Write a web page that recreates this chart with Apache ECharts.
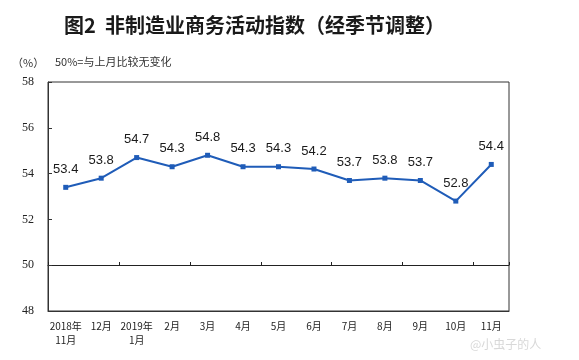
<!DOCTYPE html>
<html><head><meta charset="utf-8">
<script src="https://cdn.jsdelivr.net/npm/echarts@6/dist/echarts.min.js"></script>
<style>html,body{margin:0;padding:0;background:#fff}#c{width:579px;height:360px}</style>
</head><body><div id="c"></div>
<script>
var categories = ['2018年\n11月','12月','2019年\n1月','2月','3月','4月','5月','6月','7月','8月','9月','10月','11月'];
var values = [53.4, 53.8, 54.7, 54.3, 54.8, 54.3, 54.3, 54.2, 53.7, 53.8, 53.7, 52.8, 54.4];
var yTicks = [48, 50, 52, 54, 56, 58];
var titleText = '图2  非制造业商务活动指数（经季节调整）';
var unitText = '（%）';
var noteText = '50%=与上月比较无变化';

var chart = echarts.init(document.getElementById('c'));
chart.setOption({
  backgroundColor: '#fff',
  animation: false,
  title: {
    text: titleText, left: 59, top: 10,
    textStyle: {fontFamily: 'Noto Sans CJK SC', fontSize: 20, fontWeight: 'bold', color: '#1a1a1a'}
  },
  graphic: [
    {type: 'text', left: 12, top: 57, style: {text: unitText, font: '11px "Noto Sans CJK SC"', fill: '#333'}},
    {type: 'text', left: 55, top: 56, style: {text: noteText, font: '11px "Noto Sans CJK SC"', fill: '#333'}},
    {type: 'text', left: 470, top: 338, style: {text: '@小虫子的人', font: '12px "Noto Sans CJK SC"', fill: '#d8d8d8'}}
  ],
  grid: [
    {left: 48, right: 70, top: 82, bottom: 49, show: true, borderColor: '#333', borderWidth: 1},
    {left: 48, right: 70, top: 82, bottom: 95, show: false}
  ],
  xAxis: [
    {type: 'category', gridIndex: 0, data: categories, boundaryGap: true,
     axisLine: {show: true, lineStyle: {color: '#333'}}, axisTick: {show: false},
     axisLabel: {color: '#222', fontSize: 10, fontFamily: 'Noto Sans CJK SC', margin: 8, interval: 0, lineHeight: 14}},
    {type: 'category', gridIndex: 1, data: categories, boundaryGap: true,
     axisLine: {show: true, lineStyle: {color: '#222', width: 1}},
     axisTick: {show: true, inside: true, length: 3, lineStyle: {color: '#222'}},
     axisLabel: {show: false}}
  ],
  yAxis: [
    {type: 'value', gridIndex: 0, min: 48, max: 58, interval: 2,
     axisLine: {show: true, lineStyle: {color: '#333'}},
     axisTick: {show: true, inside: true, length: 4, lineStyle: {color: '#333'}},
     splitLine: {show: false},
     axisLabel: {color: '#222', fontSize: 12, fontFamily: 'Liberation Serif', margin: 14,
       formatter: function(v){ return yTicks.indexOf(v) >= 0 ? String(v) : ''; }}},
    {type: 'value', gridIndex: 1, min: 48, max: 50, show: false}
  ],
  series: [{
    type: 'line', xAxisIndex: 0, yAxisIndex: 0, data: values,
    symbol: 'rect', symbolSize: 5,
    lineStyle: {color: '#1f5cb8', width: 2},
    itemStyle: {color: '#1f5cb8'},
    label: {show: true, position: 'top', distance: 9, color: '#1a1a1a', fontSize: 13,
      fontFamily: 'Liberation Sans', formatter: function(p){ return p.value.toFixed(1); }}
  }]
});
</script></body></html>
